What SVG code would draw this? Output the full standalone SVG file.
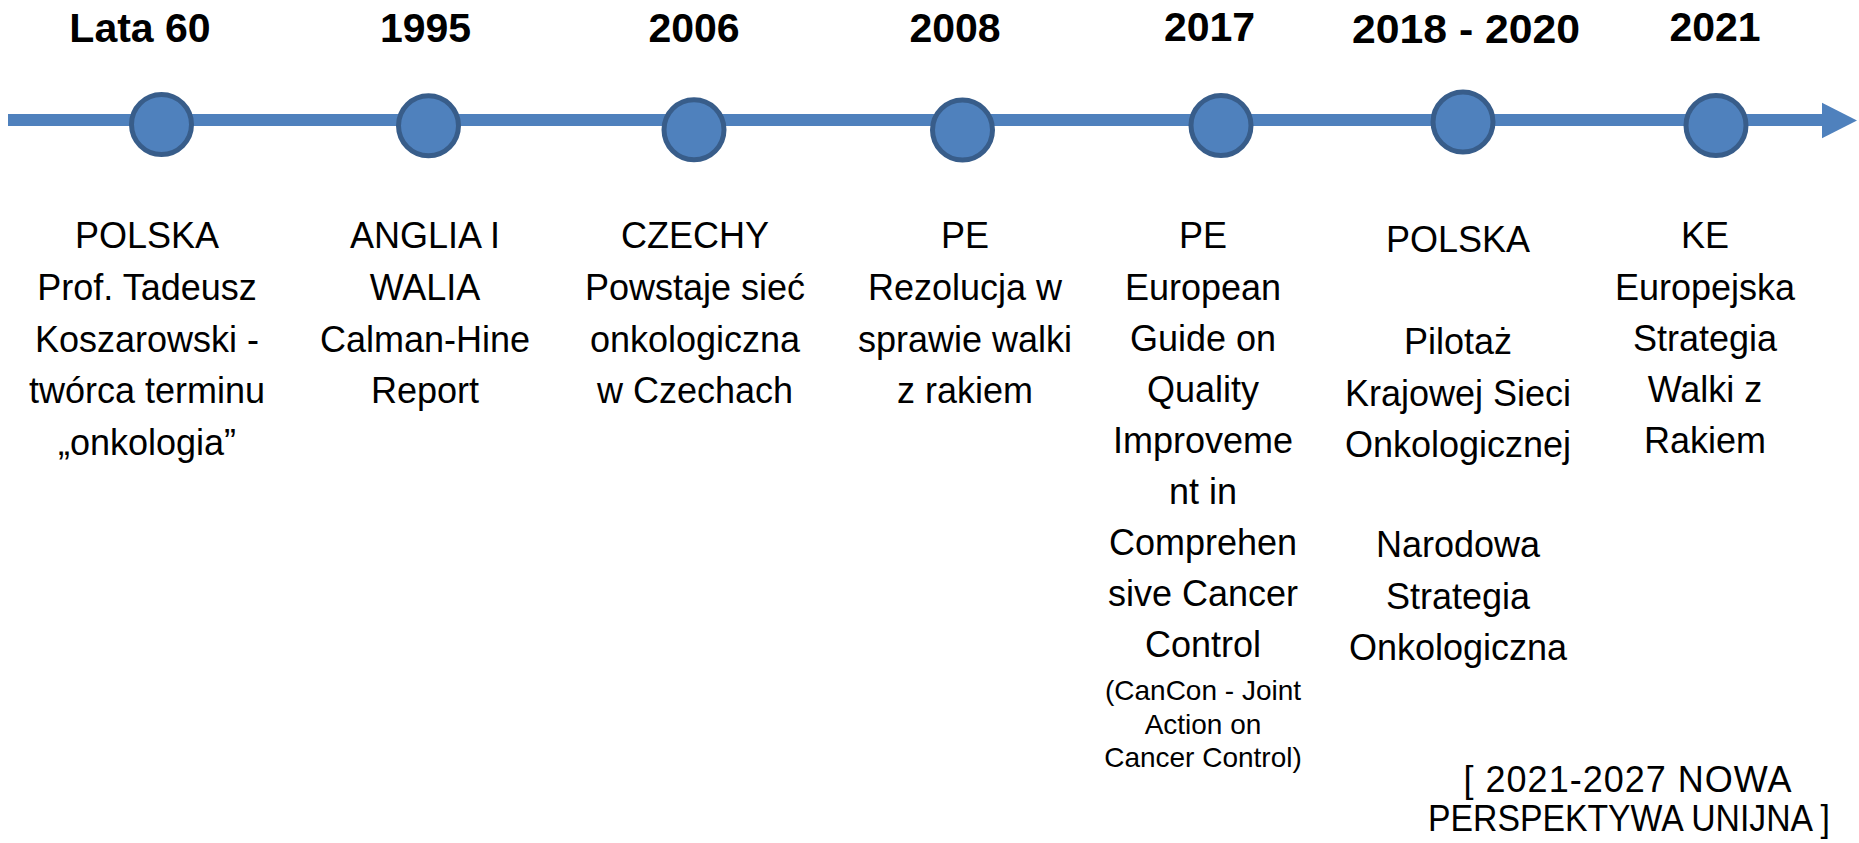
<svg xmlns="http://www.w3.org/2000/svg" width="1859" height="843" viewBox="0 0 1859 843">
<style>
.yr{font-family:"Liberation Sans",Arial,sans-serif;font-weight:bold;font-size:41px;fill:#000;text-anchor:middle}
.tx{font-family:"Liberation Sans",Arial,sans-serif;font-size:36px;fill:#000;text-anchor:middle}
.sm{font-family:"Liberation Sans",Arial,sans-serif;font-size:28px;fill:#000;text-anchor:middle}
.dot{fill:#4f81bd;stroke:#385d8a;stroke-width:5}
</style>
<rect width="1859" height="843" fill="#fff"/>
<g id="connectors">
<rect x="8" y="114" width="1816" height="12" fill="#4f81bd"/>
<polygon points="1822,102.7 1857,120.5 1822,138.3" fill="#4f81bd"/>
</g>
<g id="node-lata60">
<circle class="dot" cx="161.5" cy="124.5" r="30"/>
<text class="yr" x="140" y="42">Lata 60</text>
<text class="tx" x="147" y="248">POLSKA</text>
<text class="tx" x="147" y="300">Prof. Tadeusz</text>
<text class="tx" x="147" y="351.5">Koszarowski -</text>
<text class="tx" x="147" y="403">twórca terminu</text>
<text class="tx" x="147" y="455">„onkologia”</text>
</g>
<g id="node-1995">
<circle class="dot" cx="428.5" cy="125.8" r="30"/>
<text class="yr" x="425.5" y="42">1995</text>
<text class="tx" x="425" y="248">ANGLIA I</text>
<text class="tx" x="425" y="300">WALIA</text>
<text class="tx" x="425" y="351.5">Calman-Hine</text>
<text class="tx" x="425" y="403">Report</text>
</g>
<g id="node-2006">
<circle class="dot" cx="694" cy="129.7" r="30"/>
<text class="yr" x="694" y="42">2006</text>
<text class="tx" x="695" y="248">CZECHY</text>
<text class="tx" x="695" y="300">Powstaje sieć</text>
<text class="tx" x="695" y="351.5">onkologiczna</text>
<text class="tx" x="695" y="403">w Czechach</text>
</g>
<g id="node-2008">
<circle class="dot" cx="962.5" cy="130" r="30"/>
<text class="yr" x="955" y="42">2008</text>
<text class="tx" x="965" y="248">PE</text>
<text class="tx" x="965" y="300">Rezolucja w</text>
<text class="tx" x="965" y="351.5">sprawie walki</text>
<text class="tx" x="965" y="403">z rakiem</text>
</g>
<g id="node-2017">
<circle class="dot" cx="1221" cy="125.5" r="30"/>
<text class="yr" x="1209.5" y="41">2017</text>
<text class="tx" x="1203" y="248">PE</text>
<text class="tx" x="1203" y="300">European</text>
<text class="tx" x="1203" y="350.5">Guide on</text>
<text class="tx" x="1203" y="401.5">Quality</text>
<text class="tx" x="1203" y="453">Improveme</text>
<text class="tx" x="1203" y="503.5">nt in</text>
<text class="tx" x="1203" y="555">Comprehen</text>
<text class="tx" x="1203" y="605.5">sive Cancer</text>
<text class="tx" x="1203" y="656.5">Control</text>
<text class="sm" x="1203" y="700">(CanCon - Joint</text>
<text class="sm" x="1203" y="733.5">Action on</text>
<text class="sm" x="1203" y="767">Cancer Control)</text>
</g>
<g id="node-2018-2020">
<circle class="dot" cx="1463" cy="122" r="30"/>
<text class="yr" x="1466" y="43" textLength="228" lengthAdjust="spacingAndGlyphs">2018 - 2020</text>
<text class="tx" x="1458" y="252">POLSKA</text>
<text class="tx" x="1458" y="354">Pilotaż</text>
<text class="tx" x="1458" y="405.5">Krajowej Sieci</text>
<text class="tx" x="1458" y="457">Onkologicznej</text>
<text class="tx" x="1458" y="557">Narodowa</text>
<text class="tx" x="1458" y="608.5">Strategia</text>
<text class="tx" x="1458" y="660">Onkologiczna</text>
</g>
<g id="node-2021">
<circle class="dot" cx="1716" cy="125.5" r="30"/>
<text class="yr" x="1715" y="41">2021</text>
<text class="tx" x="1705" y="248">KE</text>
<text class="tx" x="1705" y="300">Europejska</text>
<text class="tx" x="1705" y="350.5">Strategia</text>
<text class="tx" x="1705" y="402">Walki z</text>
<text class="tx" x="1705" y="453">Rakiem</text>
</g>
<g id="note">
<text class="tx" x="1627.5" y="792" textLength="328" lengthAdjust="spacing">[ 2021-2027 NOWA</text>
<text class="tx" x="1629" y="831" textLength="402" lengthAdjust="spacingAndGlyphs">PERSPEKTYWA UNIJNA ]</text>
</g>
</svg>
